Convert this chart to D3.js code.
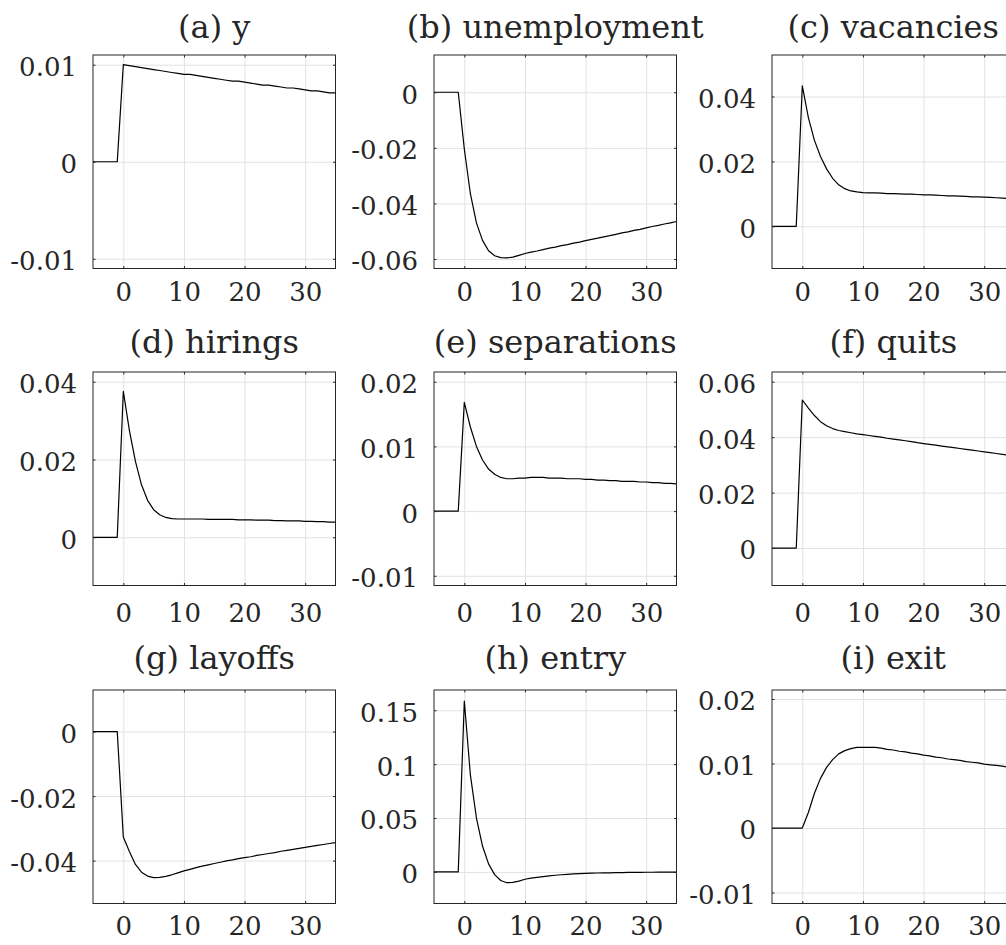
<!DOCTYPE html>
<html>
<head>
<meta charset="utf-8">
<script src="https://cdn.jsdelivr.net/npm/d3@7"></script>
<style>
  body { margin: 0; background: #fff; }
  svg { display: block; font-family: "DejaVu Serif", serif; }
  .grid line { stroke: #e2e2e2; stroke-width: 1; }
  .grid path { display: none; }
  .ticks path { display: none; }
  .ticks line { stroke: #262626; stroke-width: 1; }
  .ticks text { fill: #262626; font-size: 26px; font-family: "DejaVu Serif", serif; }
  .title { fill: #262626; font-size: 32px; text-anchor: middle; }
</style>
</head>
<body>
<div id="chart"></div>
<script>
// impulse responses, periods -5 .. 35
const periods = d3.range(-5, 36);

const titles = ["(a) y", "(b) unemployment", "(c) vacancies",
                "(d) hirings", "(e) separations", "(f) quits",
                "(g) layoffs", "(h) entry", "(i) exit"];

const output = [0, 0, 0, 0, 0,
  0.0100, 0.0099, 0.0098, 0.0097, 0.0096, 0.0095, 0.0094, 0.0093, 0.0092, 0.0091,
  0.0090, 0.0090, 0.0089, 0.0088, 0.0087, 0.0086, 0.0085, 0.0084, 0.0083, 0.0083,
  0.0082, 0.0081, 0.0080, 0.0079, 0.0079, 0.0078, 0.0077, 0.0076, 0.0076, 0.0075,
  0.0074, 0.0073, 0.0073, 0.0072, 0.0071, 0.0071];

const unemployment = [0, 0, 0, 0, 0,
  -0.0204, -0.0365, -0.0470, -0.0533, -0.0570, -0.0588, -0.0595, -0.0596, -0.0593, -0.0587,
  -0.0580, -0.0575, -0.0571, -0.0566, -0.0561, -0.0557, -0.0552, -0.0548, -0.0543, -0.0539,
  -0.0534, -0.0529, -0.0525, -0.0520, -0.0516, -0.0511, -0.0506, -0.0502, -0.0497, -0.0493,
  -0.0488, -0.0483, -0.0479, -0.0474, -0.0470, -0.0465];

const vacancies = [0, 0, 0, 0, 0,
  0.0433, 0.0335, 0.0265, 0.0215, 0.0177, 0.0148, 0.0128, 0.0116, 0.0109, 0.0106,
  0.0104, 0.0103, 0.0103, 0.0102, 0.0101, 0.0101, 0.0100, 0.0099, 0.0099, 0.0098,
  0.0097, 0.0097, 0.0096, 0.0095, 0.0094, 0.0094, 0.0093, 0.0092, 0.0091, 0.0091,
  0.0090, 0.0089, 0.0088, 0.0087, 0.0086, 0.0085];

const hirings = [0, 0, 0, 0, 0,
  0.0375, 0.0275, 0.0195, 0.0135, 0.0095, 0.0071, 0.0058, 0.0051, 0.0048, 0.0047,
  0.0047, 0.0047, 0.0047, 0.0047, 0.0046, 0.0046, 0.0046, 0.0046, 0.0046, 0.0045,
  0.0045, 0.0045, 0.0044, 0.0044, 0.0044, 0.0043, 0.0043, 0.0042, 0.0042, 0.0042,
  0.0041, 0.0041, 0.0040, 0.0040, 0.0039, 0.0039];

const separations = [0, 0, 0, 0, 0,
  0.0168, 0.0130, 0.0100, 0.0079, 0.0065, 0.0057, 0.0052, 0.0050, 0.0050, 0.0051,
  0.0051, 0.0052, 0.0052, 0.0052, 0.0051, 0.0051, 0.0051, 0.0050, 0.0050, 0.0050,
  0.0049, 0.0049, 0.0048, 0.0048, 0.0047, 0.0047, 0.0046, 0.0046, 0.0046, 0.0045,
  0.0045, 0.0044, 0.0044, 0.0043, 0.0043, 0.0042];

const quits = [0, 0, 0, 0, 0,
  0.0534, 0.0505, 0.0478, 0.0456, 0.0441, 0.0431, 0.0424, 0.0420, 0.0416, 0.0412,
  0.0409, 0.0406, 0.0403, 0.0400, 0.0396, 0.0393, 0.0390, 0.0387, 0.0384, 0.0380,
  0.0377, 0.0374, 0.0371, 0.0368, 0.0365, 0.0362, 0.0359, 0.0356, 0.0353, 0.0350,
  0.0347, 0.0344, 0.0341, 0.0338, 0.0335, 0.0332];

const layoffs = [0, 0, 0, 0, 0,
  -0.0327, -0.0372, -0.0412, -0.0436, -0.0448, -0.0453, -0.0452, -0.0449, -0.0444, -0.0438,
  -0.0432, -0.0427, -0.0422, -0.0417, -0.0413, -0.0409, -0.0405, -0.0401, -0.0398, -0.0394,
  -0.0391, -0.0388, -0.0384, -0.0381, -0.0378, -0.0375, -0.0371, -0.0368, -0.0365, -0.0362,
  -0.0359, -0.0356, -0.0353, -0.0350, -0.0347, -0.0344];

const entry = [0, 0, 0, 0, 0,
  0.1586, 0.0900, 0.0500, 0.0240, 0.0075, -0.0025, -0.0080, -0.0100, -0.0097, -0.0085,
  -0.0068, -0.0058, -0.0050, -0.0043, -0.0037, -0.0031, -0.0026, -0.0022, -0.0019, -0.0016,
  -0.0014, -0.0012, -0.0010, -0.0009, -0.0008, -0.0007, -0.0006, -0.0005, -0.0004, -0.0004,
  -0.0003, -0.0003, -0.0002, -0.0002, -0.0002, -0.0001];

const exit = [0, 0, 0, 0, 0,
  0, 0.0024, 0.0054, 0.0077, 0.0094, 0.0106, 0.0115, 0.0120, 0.0123, 0.0125,
  0.0125, 0.0125, 0.0125, 0.0124, 0.0122, 0.0121, 0.0119, 0.0118, 0.0116, 0.0115,
  0.0113, 0.0112, 0.0110, 0.0109, 0.0107, 0.0106, 0.0105, 0.0103, 0.0102, 0.0101,
  0.0099, 0.0098, 0.0097, 0.0096, 0.0094, 0.0093];

const series = [output, unemployment, vacancies, hirings, separations, quits, layoffs, entry, exit];

const xTicks = [0, 10, 20, 30];
const yTicks = [
  [-0.01, 0, 0.01],
  [-0.06, -0.04, -0.02, 0],
  [0, 0.02, 0.04],
  [0, 0.02, 0.04],
  [-0.01, 0, 0.01, 0.02],
  [0, 0.02, 0.04, 0.06],
  [-0.04, -0.02, 0],
  [0, 0.05, 0.1, 0.15],
  [-0.01, 0, 0.01, 0.02]
];
const yLimits = [
  [-0.011, 0.011],
  [-0.0634, 0.0134],
  [-0.0130, 0.0528],
  [-0.0124, 0.0425],
  [-0.0115, 0.0215],
  [-0.0135, 0.0635],
  [-0.0533, 0.0129],
  [-0.0293, 0.1688],
  [-0.0117, 0.0214]
];

// layout
const colLeft = [93, 434, 772];
const rowTop = [55, 372, 690];
const titleBase = [38, 353, 669];
const xLabelPad = [14, 18.5, 13.5];
const panel = { width: 242.5, height: 213.5 };

const svg = d3.select("#chart").append("svg")
  .attr("width", 1006)
  .attr("height", 945);

svg.append("rect").attr("width", 1006).attr("height", 945).attr("fill", "#fff");

function drawPanel(i) {
  const row = Math.floor(i / 3), col = i % 3;
  const {width, height} = panel;
  const g = svg.append("g")
    .attr("transform", `translate(${colLeft[col]},${rowTop[row]})`);

  const x = d3.scaleLinear().domain([-5, 35]).range([0, width]);
  const y = d3.scaleLinear().domain(yLimits[i]).range([height, 0]);

  // grid
  g.append("g").attr("class", "grid")
    .call(d3.axisBottom(x).tickValues(xTicks).tickSize(height).tickFormat(""));
  g.append("g").attr("class", "grid")
    .call(d3.axisLeft(y).tickValues(yTicks[i]).tickSize(-width).tickFormat(""));

  // data
  g.append("path")
    .datum(series[i])
    .attr("fill", "none")
    .attr("stroke", "#000")
    .attr("stroke-width", 1.2)
    .attr("stroke-linejoin", "round")
    .attr("d", d3.line().x((d, k) => x(periods[k])).y(d => y(d)));

  // inward ticks + labels
  g.append("g").attr("class", "ticks")
    .attr("transform", `translate(0,${height})`)
    .call(d3.axisBottom(x).tickValues(xTicks).tickSizeInner(-2.5).tickSizeOuter(0)
      .tickPadding(xLabelPad[row]).tickFormat(d => String(d)));
  g.append("g").attr("class", "ticks")
    .call(d3.axisTop(x).tickValues(xTicks).tickSizeInner(-2.5).tickSizeOuter(0).tickFormat(""));
  const left = g.append("g").attr("class", "ticks")
    .call(d3.axisLeft(y).tickValues(yTicks[i]).tickSizeInner(-2.5).tickSizeOuter(0)
      .tickPadding(16).tickFormat(d => String(d)));
  left.selectAll("text").attr("dy", "0.42em");
  g.append("g").attr("class", "ticks")
    .attr("transform", `translate(${width},0)`)
    .call(d3.axisRight(y).tickValues(yTicks[i]).tickSizeInner(-2.5).tickSizeOuter(0).tickFormat(""));

  // box
  g.append("rect")
    .attr("width", width)
    .attr("height", height)
    .attr("fill", "none")
    .attr("stroke", "#262626")
    .attr("stroke-width", 1);

  svg.append("text")
    .attr("class", "title")
    .attr("x", colLeft[col] + width / 2)
    .attr("y", titleBase[row])
    .text(titles[i]);
}

series.forEach((s, i) => drawPanel(i));
</script>
</body>
</html>
